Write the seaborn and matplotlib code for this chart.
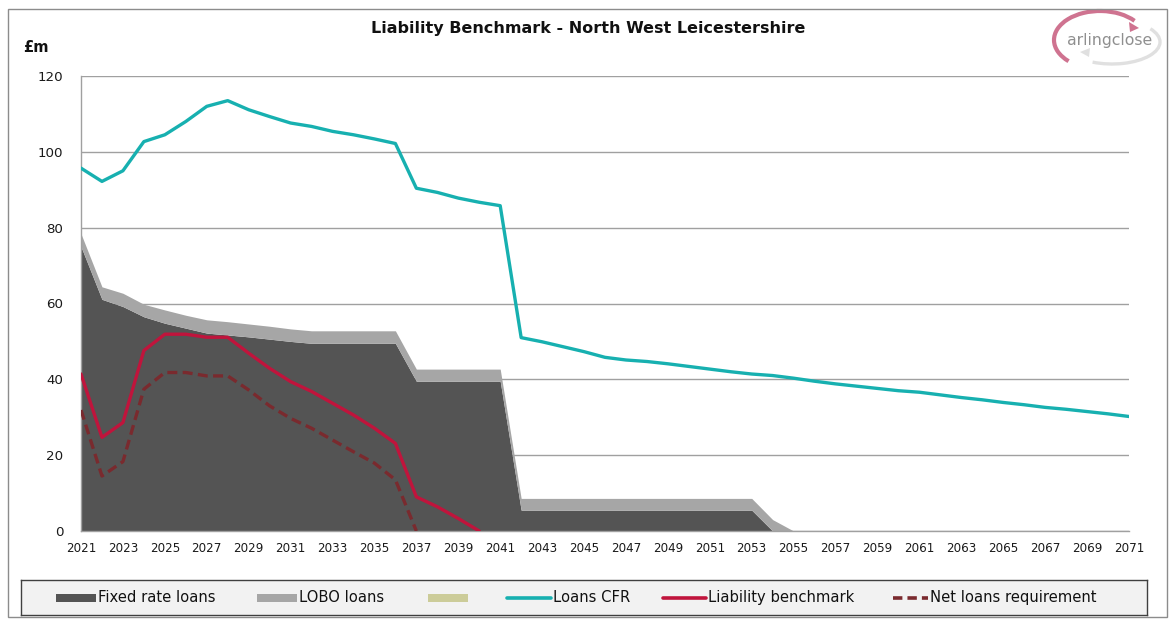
import numpy as np
import pandas as pd
import matplotlib
matplotlib.use("Agg")
import matplotlib.pyplot as plt
import seaborn as sns
from matplotlib.patches import Rectangle, Arc, Polygon
from matplotlib.lines import Line2D

years = list(range(2021, 2072))

fixed_rate = [75.0, 61.1, 59.2, 56.5, 54.8, 53.5, 52.2, 51.7, 51.2, 50.6,
              50.0, 49.5, 49.5, 49.5, 49.5, 49.5, 39.5, 39.5, 39.5, 39.5,
              39.5, 5.5, 5.5, 5.5, 5.5, 5.5, 5.5, 5.5, 5.5, 5.5,
              5.5, 5.5, 5.5, 0.0, 0.0, 0.0, 0.0, 0.0, 0.0, 0.0,
              0.0, 0.0, 0.0, 0.0, 0.0, 0.0, 0.0, 0.0, 0.0, 0.0, 0.0]
lobo = [3.4, 3.3, 3.5, 3.3, 3.5, 3.4, 3.5, 3.5, 3.4, 3.4,
        3.3, 3.3, 3.3, 3.3, 3.3, 3.3, 3.2, 3.2, 3.2, 3.2,
        3.2, 3.1, 3.1, 3.1, 3.1, 3.1, 3.1, 3.1, 3.1, 3.1,
        3.1, 3.1, 3.1, 3.0, 0.0, 0.0, 0.0, 0.0, 0.0, 0.0,
        0.0, 0.0, 0.0, 0.0, 0.0, 0.0, 0.0, 0.0, 0.0, 0.0, 0.0]
loans_cfr = [95.7, 92.2, 95.0, 102.7, 104.5, 108.0, 112.0, 113.5, 111.1, 109.3,
             107.6, 106.7, 105.4, 104.5, 103.4, 102.2, 90.4, 89.3, 87.8, 86.7,
             85.8, 51.0, 49.9, 48.6, 47.3, 45.8, 45.1, 44.7, 44.1, 43.4,
             42.7, 42.0, 41.4, 41.0, 40.3, 39.5, 38.8, 38.2, 37.6, 37.0,
             36.6, 35.9, 35.2, 34.6, 33.9, 33.3, 32.6, 32.1, 31.5, 30.9, 30.2]
lb_years = list(range(2021, 2041))
liability_benchmark = [41.4, 24.7, 28.6, 47.6, 51.9, 51.9, 51.1, 51.1, 46.9, 42.9,
                       39.4, 36.8, 33.7, 30.6, 27.1, 23.1, 9.0, 6.4, 3.3, 0.0]
nl_years = list(range(2021, 2038))
net_loans = [31.9, 14.5, 18.3, 37.4, 41.8, 41.8, 40.9, 40.9, 37.2, 33.0,
             29.7, 27.1, 24.0, 20.9, 17.9, 13.5, 0.0]

legend_labels = ["Fixed rate loans", "LOBO loans", "", "Loans CFR",
                 "Liability benchmark", "Net loans requirement"]

C_FIXED = "#545454"
C_LOBO = "#a6a6a6"
C_KHAKI = "#cccc99"
C_CFR = "#17b0b0"
C_LB = "#c0143c"
C_NL = "#7a2a2e"

sns.set_style("white")
plt.rcParams['font.family'] = ['DejaVu Sans']

W, H = 1169, 621
fig = plt.figure(figsize=(W / 100, H / 100), dpi=100)


def fx(px):
    return px / W


def fy(py):
    return 1 - py / H


# outer frame
fig.add_artist(Rectangle((fx(8), fy(617)), fx(1167) - fx(8), fy(9) - fy(617),
                         transform=fig.transFigure, fill=False,
                         edgecolor="#8c8c8c", linewidth=1.0))

ax = fig.add_axes([fx(81), fy(531), fx(1129) - fx(81), fy(76) - fy(531)])

df = pd.DataFrame({"year": years, "fixed": fixed_rate, "lobo": lobo, "cfr": loans_cfr})
ax.stackplot(df["year"], df["fixed"], df["lobo"], colors=[C_FIXED, C_LOBO],
             linewidth=0, zorder=2)

sns.lineplot(x=years, y=loans_cfr, ax=ax, color=C_CFR, linewidth=2.4, zorder=4)
sns.lineplot(x=lb_years, y=liability_benchmark, ax=ax, color=C_LB, linewidth=2.4, zorder=4)
sns.lineplot(x=nl_years, y=net_loans, ax=ax, color=C_NL, linewidth=2.4, zorder=4,
             linestyle=(0, (3, 1.6)))

ax.set_xlim(2021, 2071)
ax.set_ylim(0, 120)
ax.set_yticks(range(0, 121, 20))
ax.set_xticks(list(range(2021, 2072, 2)))
ax.set_xticks(years, minor=True)
ax.set_xticklabels([str(y) for y in range(2021, 2072, 2)])
ax.grid(axis="y", color="#a0a0a0", linewidth=1.0, zorder=0)
ax.set_axisbelow(True)
for s in ["top", "right"]:
    ax.spines[s].set_visible(False)
for s in ["left", "bottom"]:
    ax.spines[s].set_color("#a0a0a0")
    ax.spines[s].set_linewidth(1.0)
ax.tick_params(axis="x", which="both", direction="out", color="#a0a0a0",
               length=4, width=1.0, labelsize=8.6, labelcolor="#1a1a1a", pad=4)
ax.tick_params(axis="y", which="both", direction="out", color="#a0a0a0",
               length=4.3, width=1.0, labelsize=9.6, labelcolor="#1a1a1a", pad=8.5)
ax.set_xlabel("")
ax.set_ylabel("")

fig.text(fx(588), fy(29), "Liability Benchmark - North West Leicestershire",
         ha="center", va="center", fontsize=11.5, fontweight="bold", color="#111111")
fig.text(fx(36), fy(47), "£m", ha="center", va="center", fontsize=10.5,
         fontweight="bold", color="#111111")

# logo (pixel coordinates, y up)
lax = fig.add_axes([fx(1040), fy(80), fx(1168) - fx(1040), fy(0) - fy(80)])
lax.set_xlim(1040, 1168)
lax.set_ylim(H - 80, H)
lax.axis("off")
lax.add_patch(Arc((1112, H - 42), 96, 44, theta1=-134, theta2=19,
                  color="#e0e0e0", linewidth=2.4))
lax.add_patch(Polygon([[1080, H - 52], [1090, H - 48], [1089, H - 57]],
                      closed=True, color="#e0e0e0", linewidth=0))
lax.add_patch(Arc((1100, H - 40), 92, 58, theta1=29, theta2=214,
                  color="#cf7390", linewidth=3.0))
lax.add_patch(Polygon([[1139, H - 28], [1129, H - 22], [1130, H - 32]],
                      closed=True, color="#cf7390", linewidth=0))
lax.text(1110, H - 40, "arlingclose", ha="center", va="center", fontsize=11.3,
         color="#8f8f8f", family="DejaVu Sans")

# legend box
leg_ax = fig.add_axes([fx(21), fy(615), fx(1147) - fx(21), fy(580) - fy(615)])
leg_ax.set_xlim(21, 1147)
leg_ax.set_ylim(615, 580)
leg_ax.set_xticks([])
leg_ax.set_yticks([])
leg_ax.set_facecolor("#f2f2f2")
for s in leg_ax.spines.values():
    s.set_color("#404040")
    s.set_linewidth(1.0)

handle_x = [56, 257, 428, 507, 663, 893]
handle_w = [40, 40, 40, 44, 43, 35]
ymid = 597.5
kinds = [("patch", C_FIXED), ("patch", C_LOBO), ("patch", C_KHAKI),
         ("line", C_CFR), ("line", C_LB), ("dash", C_NL)]
for hx, hw, (kind, col), lab in zip(handle_x, handle_w, kinds, legend_labels):
    if kind == "patch":
        leg_ax.add_patch(Rectangle((hx, ymid - 4), hw, 8, color=col, linewidth=0))
    elif kind == "line":
        leg_ax.add_line(Line2D([hx, hx + hw], [ymid, ymid], color=col, linewidth=2.6))
    else:
        leg_ax.add_line(Line2D([hx, hx + hw], [ymid, ymid], color=col, linewidth=2.6,
                               linestyle=(0, (2.6, 1.4))))
    if lab:
        leg_ax.text(hx + hw + 2, ymid, lab, ha="left", va="center", fontsize=10.6,
                    color="#111111", family="DejaVu Sans")

fig.savefig("out.png", dpi=100)
